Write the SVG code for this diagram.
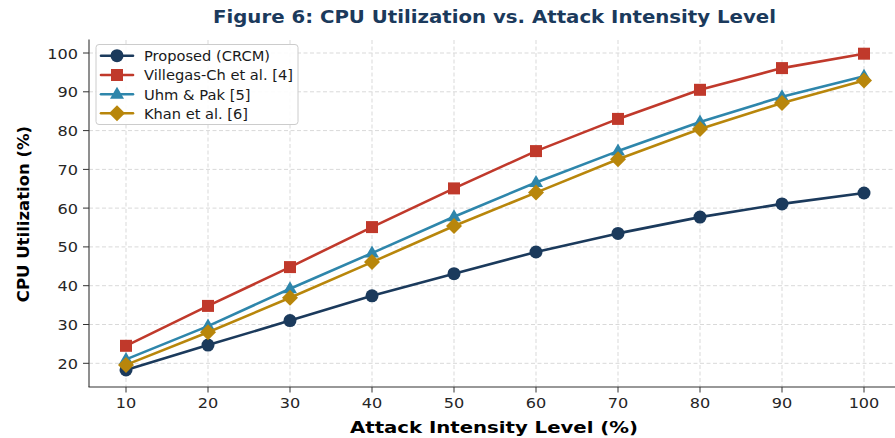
<svg xmlns="http://www.w3.org/2000/svg" width="895" height="438" viewBox="0 0 895 438">
<style>
.grid line{stroke:#d9d9d9;stroke-width:1;stroke-dasharray:4,2.5}
.spine{stroke:#333;stroke-width:1.1}
.tick{stroke:#333;stroke-width:1}
.tl{font-family:"DejaVu Sans",sans-serif;font-size:14px;fill:#262626}
.yt{text-anchor:end}
.xt{text-anchor:middle}
.title{font-family:"DejaVu Sans",sans-serif;font-weight:bold;font-size:17px;fill:#1B3A5C;text-anchor:middle}
.albl{font-family:"DejaVu Sans",sans-serif;font-weight:bold;font-size:16.5px;fill:#000;text-anchor:middle}
.series{fill:none;stroke-width:2.6;stroke-linejoin:round;stroke-linecap:round}
.leg{font-family:"DejaVu Sans",sans-serif;font-size:13.5px;fill:#1a1a1a}
</style>
<defs>
<marker id="mk-p" markerUnits="userSpaceOnUse" markerWidth="20" markerHeight="20" refX="10" refY="10" overflow="visible"><circle cx="10" cy="10" r="6.5" fill="#1B3A5C"/></marker>
<marker id="mk-v" markerUnits="userSpaceOnUse" markerWidth="20" markerHeight="20" refX="10" refY="10" overflow="visible"><rect x="4" y="4" width="12" height="12" fill="#C0392B"/></marker>
<marker id="mk-u" markerUnits="userSpaceOnUse" markerWidth="20" markerHeight="20" refX="10" refY="10" overflow="visible"><polygon points="10,2.5 17,14.5 3,14.5" fill="#2E86AB"/></marker>
<marker id="mk-k" markerUnits="userSpaceOnUse" markerWidth="20" markerHeight="20" refX="10" refY="10" overflow="visible"><polygon points="10,2 18,10 10,18 2,10" fill="#B8860B"/></marker>
</defs>
<rect width="895" height="438" fill="#fff"/>
<text class="title" x="494.5" y="22.5" textLength="563" lengthAdjust="spacingAndGlyphs">Figure 6: CPU Utilization vs. Attack Intensity Level</text>
<g class="grid">
<line x1="126" y1="40" x2="126" y2="387"/><line x1="208" y1="40" x2="208" y2="387"/><line x1="290" y1="40" x2="290" y2="387"/><line x1="372" y1="40" x2="372" y2="387"/><line x1="454" y1="40" x2="454" y2="387"/><line x1="536" y1="40" x2="536" y2="387"/><line x1="618" y1="40" x2="618" y2="387"/><line x1="700" y1="40" x2="700" y2="387"/><line x1="782" y1="40" x2="782" y2="387"/><line x1="864" y1="40" x2="864" y2="387"/>
<line x1="89" y1="363.3" x2="895" y2="363.3"/><line x1="89" y1="324.5" x2="895" y2="324.5"/><line x1="89" y1="285.7" x2="895" y2="285.7"/><line x1="89" y1="246.9" x2="895" y2="246.9"/><line x1="89" y1="208.1" x2="895" y2="208.1"/><line x1="89" y1="169.4" x2="895" y2="169.4"/><line x1="89" y1="130.6" x2="895" y2="130.6"/><line x1="89" y1="91.8" x2="895" y2="91.8"/><line x1="89" y1="53" x2="895" y2="53"/>
</g>
<g id="axes">
<line class="spine" x1="89" y1="39.5" x2="89" y2="387"/>
<line class="spine" x1="88.5" y1="387" x2="895" y2="387"/>
<g class="tick">
<line x1="83" y1="363.3" x2="89" y2="363.3"/><line x1="83" y1="324.5" x2="89" y2="324.5"/><line x1="83" y1="285.7" x2="89" y2="285.7"/><line x1="83" y1="246.9" x2="89" y2="246.9"/><line x1="83" y1="208.1" x2="89" y2="208.1"/><line x1="83" y1="169.4" x2="89" y2="169.4"/><line x1="83" y1="130.6" x2="89" y2="130.6"/><line x1="83" y1="91.8" x2="89" y2="91.8"/><line x1="83" y1="53" x2="89" y2="53"/>
<line x1="126" y1="387" x2="126" y2="392.5"/><line x1="208" y1="387" x2="208" y2="392.5"/><line x1="290" y1="387" x2="290" y2="392.5"/><line x1="372" y1="387" x2="372" y2="392.5"/><line x1="454" y1="387" x2="454" y2="392.5"/><line x1="536" y1="387" x2="536" y2="392.5"/><line x1="618" y1="387" x2="618" y2="392.5"/><line x1="700" y1="387" x2="700" y2="392.5"/><line x1="782" y1="387" x2="782" y2="392.5"/><line x1="864" y1="387" x2="864" y2="392.5"/>
</g>
<g class="tl yt">
<text x="78" y="368.8" textLength="20.5" lengthAdjust="spacingAndGlyphs">20</text>
<text x="78" y="330" textLength="20.5" lengthAdjust="spacingAndGlyphs">30</text>
<text x="78" y="291.2" textLength="20.5" lengthAdjust="spacingAndGlyphs">40</text>
<text x="78" y="252.4" textLength="20.5" lengthAdjust="spacingAndGlyphs">50</text>
<text x="78" y="213.6" textLength="20.5" lengthAdjust="spacingAndGlyphs">60</text>
<text x="78" y="174.9" textLength="20.5" lengthAdjust="spacingAndGlyphs">70</text>
<text x="78" y="136.1" textLength="20.5" lengthAdjust="spacingAndGlyphs">80</text>
<text x="78" y="97.3" textLength="20.5" lengthAdjust="spacingAndGlyphs">90</text>
<text x="78" y="58.5" textLength="30.7" lengthAdjust="spacingAndGlyphs">100</text>
</g>
<g class="tl xt">
<text x="126" y="407.5" textLength="20.5" lengthAdjust="spacingAndGlyphs">10</text>
<text x="208" y="407.5" textLength="20.5" lengthAdjust="spacingAndGlyphs">20</text>
<text x="290" y="407.5" textLength="20.5" lengthAdjust="spacingAndGlyphs">30</text>
<text x="372" y="407.5" textLength="20.5" lengthAdjust="spacingAndGlyphs">40</text>
<text x="454" y="407.5" textLength="20.5" lengthAdjust="spacingAndGlyphs">50</text>
<text x="536" y="407.5" textLength="20.5" lengthAdjust="spacingAndGlyphs">60</text>
<text x="618" y="407.5" textLength="20.5" lengthAdjust="spacingAndGlyphs">70</text>
<text x="700" y="407.5" textLength="20.5" lengthAdjust="spacingAndGlyphs">80</text>
<text x="782" y="407.5" textLength="20.5" lengthAdjust="spacingAndGlyphs">90</text>
<text x="864" y="407.5" textLength="30.7" lengthAdjust="spacingAndGlyphs">100</text>
</g>
<text class="albl" x="494" y="432.5" font-size="17" textLength="288" lengthAdjust="spacingAndGlyphs">Attack Intensity Level (%)</text>
<text class="albl" transform="translate(28.5,214) rotate(-90)" x="0" y="0">CPU Utilization (%)</text>
</g>
<g id="connectors">
<polyline id="s-proposed" class="series" stroke="#1B3A5C" marker-start="url(#mk-p)" marker-mid="url(#mk-p)" marker-end="url(#mk-p)" points="126,369.9 208,345.1 290,320.6 372,295.8 454,273.7 536,252 618,233.4 700,217.1 782,203.9 864,193"/>
<polyline id="s-villegas" class="series" stroke="#C0392B" marker-start="url(#mk-v)" marker-mid="url(#mk-v)" marker-end="url(#mk-v)" points="126,345.8 208,305.9 290,267.1 372,227.1 454,188.4 536,151.1 618,118.9 700,89.8 782,68.1 864,53.7"/>
<polyline id="s-uhm" class="series" stroke="#2E86AB" marker-start="url(#mk-u)" marker-mid="url(#mk-u)" marker-end="url(#mk-u)" points="126,359.4 208,326.1 290,288.8 372,253.1 454,216.7 536,182.5 618,151.1 700,122 782,96.8 864,76.2"/>
<polyline id="s-khan" class="series" stroke="#B8860B" marker-start="url(#mk-k)" marker-mid="url(#mk-k)" marker-end="url(#mk-k)" points="126,364.9 208,332.3 290,297.7 372,262.1 454,226 536,192.6 618,159.3 700,129 782,103 864,80.5"/>
</g>
<g id="legend">
<rect x="96" y="44.5" width="202" height="80" rx="3" fill="#fff" fill-opacity="0.9" stroke="#cccccc" stroke-width="1"/>
<g id="leg-proposed"><polyline class="series" stroke="#1B3A5C" marker-mid="url(#mk-p)" points="101,55.7 117,55.7 133,55.7"/><text class="leg" x="144" y="61" textLength="126" lengthAdjust="spacingAndGlyphs">Proposed (CRCM)</text></g>
<g id="leg-villegas"><polyline class="series" stroke="#C0392B" marker-mid="url(#mk-v)" points="101,75 117,75 133,75"/><text class="leg" x="144" y="80.3" textLength="149" lengthAdjust="spacingAndGlyphs">Villegas-Ch et al. [4]</text></g>
<g id="leg-uhm"><polyline class="series" stroke="#2E86AB" marker-mid="url(#mk-u)" points="101,94.3 117,94.3 133,94.3"/><text class="leg" x="144" y="99.6" textLength="106.5" lengthAdjust="spacingAndGlyphs">Uhm &amp; Pak [5]</text></g>
<g id="leg-khan"><polyline class="series" stroke="#B8860B" marker-mid="url(#mk-k)" points="101,113.3 117,113.3 133,113.3"/><text class="leg" x="144" y="118.6" textLength="104" lengthAdjust="spacingAndGlyphs">Khan et al. [6]</text></g>
</g>
</svg>
